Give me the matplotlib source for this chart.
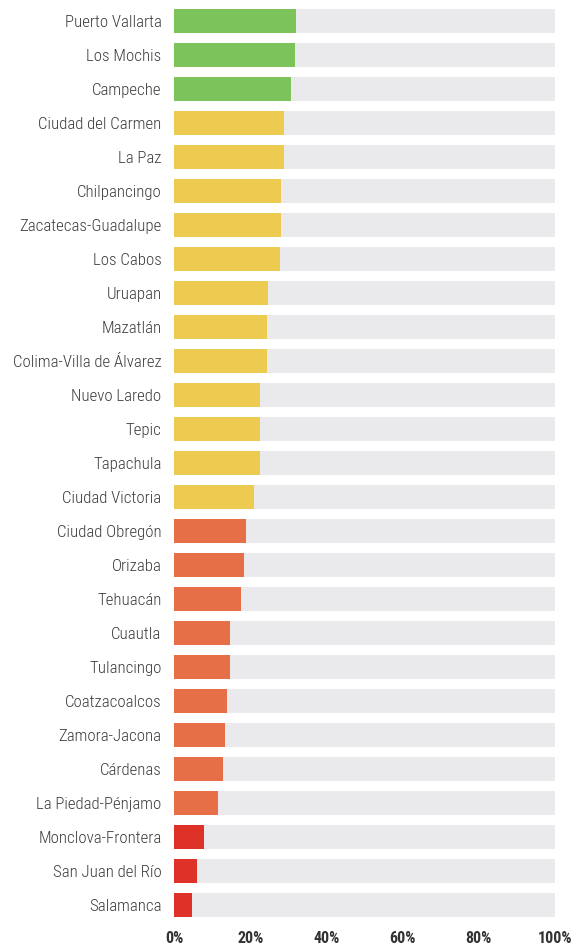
import matplotlib
matplotlib.use('Agg')
import matplotlib.pyplot as plt
from matplotlib import font_manager
from matplotlib.ticker import FuncFormatter

cities = ['Puerto Vallarta', 'Los Mochis', 'Campeche', 'Ciudad del Carmen', 'La Paz',
          'Chilpancingo', 'Zacatecas-Guadalupe', 'Los Cabos', 'Uruapan', 'Mazatlán',
          'Colima-Villa de Álvarez', 'Nuevo Laredo', 'Tepic', 'Tapachula', 'Ciudad Victoria',
          'Ciudad Obregón', 'Orizaba', 'Tehuacán', 'Cuautla', 'Tulancingo',
          'Coatzacoalcos', 'Zamora-Jacona', 'Cárdenas', 'La Piedad-Pénjamo',
          'Monclova-Frontera', 'San Juan del Río', 'Salamanca']
values = [32.0, 31.8, 30.7, 28.9, 28.9,
          28.1, 28.1, 27.8, 24.7, 24.4,
          24.4, 22.6, 22.6, 22.6, 21.0,
          18.9, 18.4, 17.6, 14.7, 14.7,
          13.9, 13.4, 12.9, 11.5,
          7.9, 6.0, 4.7]
groups = ['green'] * 3 + ['yellow'] * 12 + ['orange'] * 9 + ['red'] * 3
xticks = [0, 20, 40, 60, 80, 100]

palette = {'green': '#7dc35b', 'yellow': '#edcb50', 'orange': '#e76f47', 'red': '#de3229'}

# narrow face for the labels (falls back to plain DejaVu if missing)
names = {f.name for f in font_manager.fontManager.ttflist}
if 'Roboto Condensed' in names:
    fam, lsize, tsize = 'Roboto Condensed', 12.2, 11.5
else:
    fam, lsize, tsize = 'DejaVu Sans', 9.5, 8.5

fig = plt.figure(figsize=(5.76, 9.46), dpi=100)
ax = fig.add_axes([174/576, 24/946, 381/576, 918/946])

y = range(len(cities))
ax.barh(y, [100] * len(cities), height=0.706, color='#eaeaec', zorder=1)
ax.barh(y, values, height=0.706, color=[palette[g] for g in groups], zorder=2)

ax.set_xlim(0, 100)
ax.set_ylim(len(cities) - 0.5, -0.5)
ax.set_yticks(list(y))
ax.set_yticklabels(cities, family=[fam, 'DejaVu Sans'], fontweight='light',
                   fontsize=lsize, color='#3d3d3d')
ax.set_xticks(xticks)
ax.xaxis.set_major_formatter(FuncFormatter(lambda v, p: '%d%%' % v))
for lab in ax.get_xticklabels():
    lab.set_family([fam, 'DejaVu Sans'])
    lab.set_fontsize(tsize)
    lab.set_fontweight('bold')
    lab.set_color('#333333')
ax.tick_params(axis='y', length=0, pad=9)
ax.tick_params(axis='x', length=0, pad=6.5)
for s in ax.spines.values():
    s.set_visible(False)

fig.savefig('out.png', dpi=100)
